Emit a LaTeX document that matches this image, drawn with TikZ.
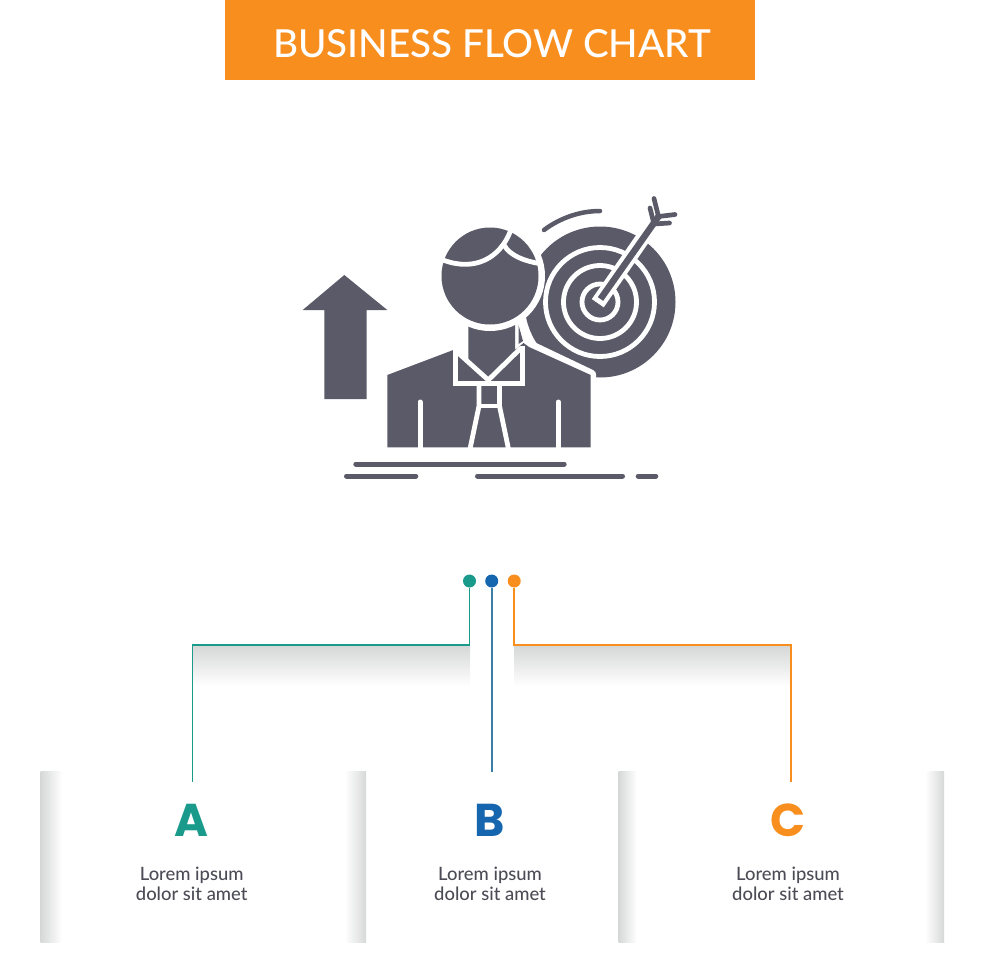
\documentclass[tikz,border=0pt]{standalone}
\usepackage{fontspec}
\setmainfont{Lato Medium}
\newfontfamily\heavyfont{Poppins}[BoldFont={Poppins Bold}]
\definecolor{bannerc}{HTML}{F78E1E}
\definecolor{tealc}{HTML}{1A9A8B}
\definecolor{bluec}{HTML}{1566AE}
\definecolor{wirebc}{HTML}{3A7FA6}
\definecolor{iconc}{HTML}{5B5A68}
\definecolor{textc}{HTML}{4C4C56}
\definecolor{shadec}{HTML}{D6D8D7}
\tikzset{
  dot/.style={circle,inner sep=0pt,minimum size=13pt},
  wire/.style={line width=1.7pt},
  cutline/.style={white,line width=4.8pt},
  barline/.style={iconc,line width=5pt,line cap=round},
  lorem/.style={textc,align=center,font=\fontsize{18.4}{20}\selectfont},
  letter/.style={font=\heavyfont\bfseries\fontsize{46}{46}\selectfont},
}
\begin{document}
\begin{tikzpicture}[x=1pt,y=-1pt]
\useasboundingbox (0,0) rectangle (980,980);
% banner
\fill[bannerc] (225,0) rectangle (755,80);
\node[white,font=\fontsize{38.6}{38}\selectfont] (title) at (492,44) {BUSINESS FLOW CHART};
% target
\fill[iconc] (600,302) circle (75.5);
\foreach \r in {54.5,36.5,18}{
\draw[cutline] (600,302) circle (\r);
}
\draw[white,line width=14.5pt] (597.8,303.2) -- (645,235);
\draw[iconc,line width=6.5pt] (600.5,299) -- (658.5,216.5);
\draw[iconc,line width=4.7pt,line cap=round,line join=round] (654,198.5) -- (658.5,216.5) -- (675,214.5);
\draw[iconc,line width=4.7pt,line cap=round,line join=round] (650,208) -- (654,224) -- (669.5,223);
\draw[iconc,line width=4.5pt,line cap=round] (544,230) .. controls (560,218) and (580,211) .. (600,211);
% man
\draw[white,fill=white,line width=11pt,line join=round] (387.3,447.3) -- (387.3,375) -- (453.3,350) -- (523.5,343) -- (590.7,375) -- (590.7,447.3) -- cycle;
\fill[iconc] (387.3,447.3) -- (387.3,375) -- (453.3,350) -- (456,350) -- (468.4,361) -- (468.4,320) -- (515,320) -- (515,350) -- (523.5,343) -- (529,347) -- (590.7,375) -- (590.7,447.3) -- cycle;
\fill[iconc] (518.5,325) -- (518.5,344) -- (523,341) -- cycle;
\fill[white] (490,276) circle (55);
\fill[iconc] (490,276) circle (48.5);
\draw[cutline] (443,260) .. controls (475,272) and (500,258) .. (510.5,231);
\draw[cutline] (504,245) .. controls (510,256) and (525,261) .. (539,263.5);
\draw[cutline,line join=miter] (455.3,349) -- (455.3,383.3) -- (522.7,383.3) -- (522.7,346);
\draw[cutline,line join=miter] (456,351) -- (488.3,380) -- (521,348);
\draw[cutline,line join=miter] (470,449) -- (479,406) -- (479,383);
\draw[cutline,line join=miter] (508.5,449) -- (499.5,406) -- (499.5,383);
\draw[cutline] (479,406) -- (499.5,406);
\foreach \xx in {420,558.3}{
\draw[white,line width=5pt,line cap=round] (\xx,402) -- (\xx,449);
}
% up arrow
\fill[iconc] (344.3,275) -- (387.3,310) -- (366.7,310) -- (366.7,399) -- (324.3,399) -- (324.3,310) -- (302.7,310) -- cycle;
% ground
\draw[barline] (355.8,464) -- (564.2,464);
\draw[barline] (346.5,476) -- (415.8,476);
\draw[barline] (477.5,476) -- (622.5,476);
\draw[barline] (638.2,476) -- (655.8,476);
% shadows
\shade[top color=shadec,bottom color=white] (193,646) rectangle (470,686);
\shade[top color=shadec,bottom color=white] (514,646) rectangle (791,686);
\shade[left color=shadec,right color=white] (40.5,771.5) rectangle (62,942.5);
\shade[left color=white,right color=shadec] (345,771.5) rectangle (366,942.5);
\shade[left color=shadec,right color=white] (618.5,771.5) rectangle (637,942.5);
\shade[left color=white,right color=shadec] (925,771.5) rectangle (944,942.5);
% dots and wires
\node[dot,fill=tealc] (dotA) at (469.5,581) {};
\node[dot,fill=bluec] (dotB) at (491.7,581) {};
\node[dot,fill=bannerc] (dotC) at (514.2,581) {};
\coordinate (elbowA) at (192.5,645);
\coordinate (elbowC) at (791.3,645);
\coordinate (endA) at (192.5,782);
\coordinate (endB) at (491.7,772);
\coordinate (endC) at (791.3,782);
\draw[wire,tealc] (dotA) |- (elbowA) -- (endA);
\draw[wire,wirebc] (dotB) -- (endB);
\draw[wire,bannerc] (dotC) |- (elbowC) -- (endC);
% panels
\foreach \nm/\xx/\cc in {A/191.7/tealc,B/490/bluec,C/788/bannerc}{
\node[letter,text=\cc] (letter\nm) at (\xx,820) {\nm};
\node[lorem] (text\nm) at (\xx,884) {Lorem ipsum\\dolor sit amet};
}
\end{tikzpicture}
\end{document}
